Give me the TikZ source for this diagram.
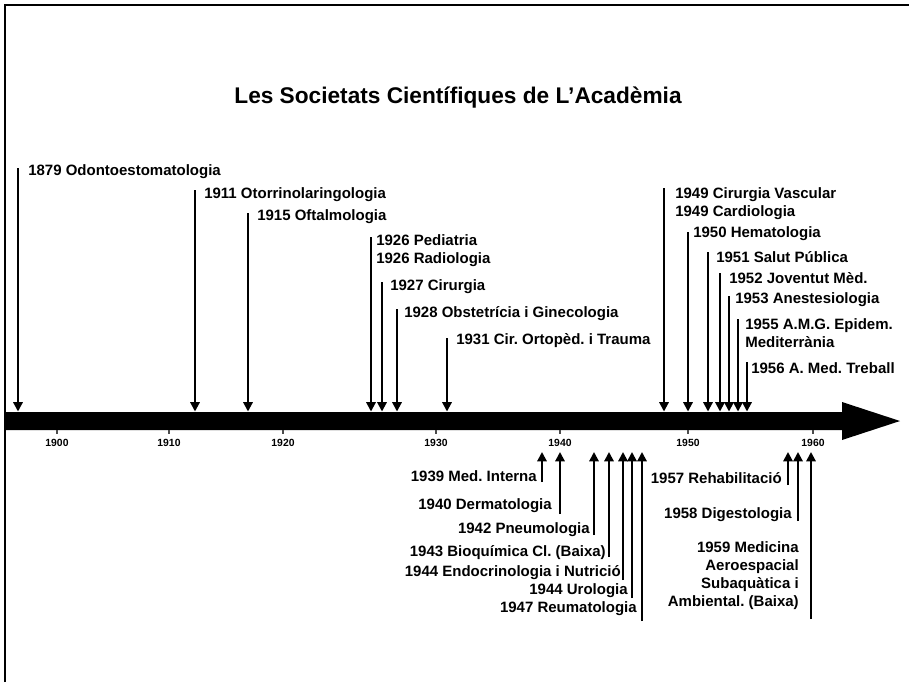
\documentclass[tikz,border=0pt]{standalone}
\usepackage{fontspec}
\setmainfont{Liberation Sans}[BoldFont=Liberation Sans Bold]
\usetikzlibrary{arrows.meta}
\frenchspacing
\begin{document}
\begin{tikzpicture}[x=0.75pt,y=-0.75pt,
  ev/.style={line width=1.5pt,-{Triangle[width=7pt,length=7pt]}},
  lab/.style={font=\bfseries\fontsize{11.25}{13.5}\selectfont,inner sep=0pt},
  yr/.style={font=\bfseries\fontsize{7.8}{8}\selectfont,inner sep=0pt},
  tick/.style={line width=1pt,black!70},
  frame/.style={line width=1.2pt}]
\useasboundingbox (0,0) rectangle (909,682);

% page frame (top and left edges)
\draw[frame] (5,682) -- (5,5);
\draw[line width=1.6pt] (4.4,5) -- (909,5);

% title
\node[font=\bfseries\fontsize{17}{20}\selectfont,inner sep=0pt] (title) at (458,98)
  {Les Societats Científiques de L’Acadèmia};

% time axis
\fill (5,412) -- (842,412) -- (842,402) -- (900,421) -- (842,440) -- (842,430) -- (5,430) -- cycle;

% decade ticks and labels
\foreach \n/\x in {1900/57,1910/169,1920/283,1930/436,1940/560,1950/688,1960/813}{
  \draw[tick] (\x,430) -- (\x,434);
  \node[yr] (y\n) at (\x,443) {\n};
}

% societies above the axis
\foreach \n/\x/\yt/\lx/\ly/\txt in {
  1/18/168/28/172/{1879 Odontoestomatologia},
  2/195/190/204/195/{1911 Otorrinolaringologia},
  3/248/213/257/217/{1915 Oftalmologia},
  4/371/237/376/251/{1926 Pediatria\\1926 Radiologia},
  5/382/282/390/287/{1927 Cirurgia},
  6/397/309/404/314/{1928 Obstetrícia i Ginecologia},
  7/447/338/456/341/{1931 Cir. Ortopèd. i Trauma},
  8/664/188/675/204/{1949 Cirurgia Vascular\\1949 Cardiologia},
  9/688/232/693/234/{1950 Hematologia},
  10/708/252/716/257/{1951 Salut Pública},
  11/720/273/729/278/{1952 Joventut Mèd.},
  12/729/296/735/300/{1953 Anestesiologia},
  13/738/319/745/333/{1955 A.M.G. Epidem.\\Mediterrània},
  14/747/362/751/368/{1956 A. Med. Treball}}{
  \coordinate (ds\n) at (\x,\yt);
  \coordinate (de\n) at (\x,411.5);
  \draw[ev] (ds\n) -- (de\n);
  \node[lab,anchor=west,align=left] (dl\n) at (\lx,\ly) {\txt};
}

% societies below the axis
\foreach \n/\x/\yb/\rx/\ly/\txt in {
  1/542/482/537/476/{1939 Med. Interna},
  2/560/514/552/506/{1940 Dermatologia},
  3/594/535/590/530/{1942 Pneumologia},
  4/609/557/606/553/{1943 Bioquímica Cl. (Baixa)},
  5/623/580/621/573/{1944 Endocrinologia i Nutrició},
  6/632/598/628/591/{1944 Urologia},
  7/642/621/637/609/{1947 Reumatologia},
  8/788/485/782/478/{1957 Rehabilitació},
  9/798/521/792/515/{1958 Digestologia},
  10/811/619/799/576/{1959 Medicina\\Aeroespacial\\Subaquàtica i\\Ambiental. (Baixa)}}{
  \coordinate (us\n) at (\x,\yb);
  \coordinate (ue\n) at (\x,452);
  \draw[ev] (us\n) -- (ue\n);
  \node[lab,anchor=east,align=right] (ul\n) at (\rx,\ly) {\txt};
}
\end{tikzpicture}
\end{document}
